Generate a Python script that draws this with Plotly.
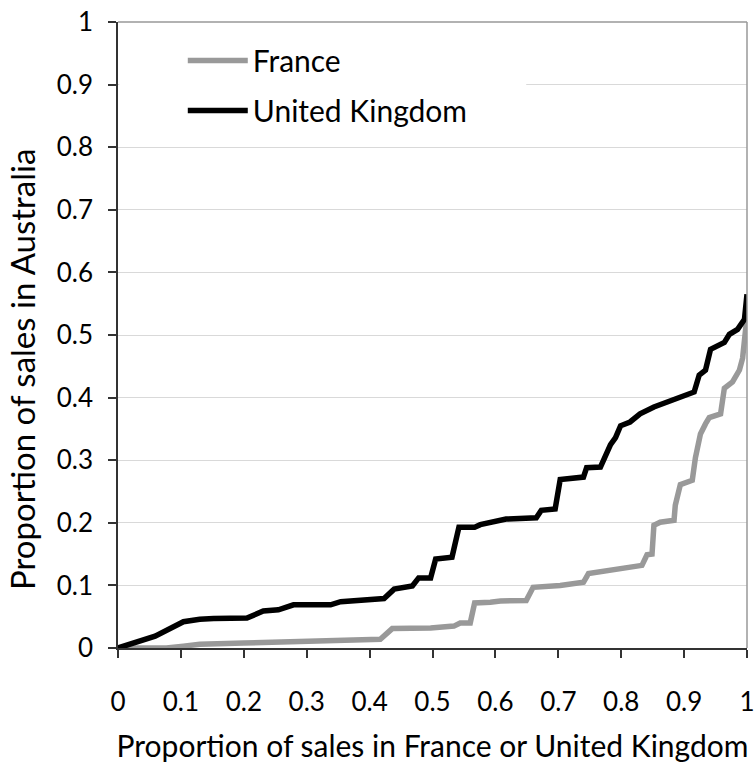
import plotly.graph_objects as go

uk_x = [0, 0.059, 0.104, 0.130, 0.152, 0.205, 0.231, 0.255, 0.279, 0.338, 0.354, 0.396,
        0.423, 0.439, 0.468, 0.478, 0.497, 0.505, 0.531, 0.542, 0.567, 0.576, 0.617,
        0.665, 0.673, 0.695, 0.703, 0.740, 0.745, 0.767, 0.783, 0.791, 0.799, 0.814,
        0.830, 0.852, 0.884, 0.916, 0.924, 0.934, 0.942, 0.964, 0.972, 0.985, 0.996, 1.0]
uk_y = [0, 0.019, 0.042, 0.046, 0.047, 0.048, 0.059, 0.061, 0.069, 0.069, 0.074, 0.078,
        0.079, 0.094, 0.099, 0.112, 0.112, 0.142, 0.145, 0.193, 0.193, 0.197, 0.206,
        0.208, 0.220, 0.222, 0.269, 0.273, 0.288, 0.289, 0.325, 0.336, 0.355, 0.361,
        0.374, 0.385, 0.398, 0.409, 0.436, 0.444, 0.477, 0.488, 0.501, 0.509, 0.525, 0.565]

fr_x = [0, 0.077, 0.104, 0.130, 0.200, 0.269, 0.306, 0.359, 0.417, 0.436, 0.497, 0.534,
        0.544, 0.560, 0.567, 0.592, 0.608, 0.649, 0.660, 0.703, 0.740, 0.748, 0.777,
        0.820, 0.833, 0.841, 0.849, 0.852, 0.862, 0.884, 0.886, 0.894, 0.913, 0.918,
        0.926, 0.934, 0.940, 0.958, 0.964, 0.977, 0.988, 0.993, 0.998, 1.0]
fr_y = [0, 0, 0.003, 0.006, 0.008, 0.010, 0.011, 0.013, 0.014, 0.031, 0.032, 0.035,
        0.040, 0.040, 0.072, 0.073, 0.075, 0.076, 0.097, 0.100, 0.105, 0.119, 0.124,
        0.130, 0.132, 0.149, 0.150, 0.196, 0.201, 0.204, 0.228, 0.261, 0.268, 0.304,
        0.342, 0.358, 0.368, 0.374, 0.415, 0.425, 0.444, 0.463, 0.504, 0.530]

tick_vals = [0, 0.1, 0.2, 0.3, 0.4, 0.5, 0.6, 0.7, 0.8, 0.9, 1]
tick_text = ["0", "0.1", "0.2", "0.3", "0.4", "0.5", "0.6", "0.7", "0.8", "0.9", "1"]

x_title = "Proportion of sales in France or United Kingdom"
y_title = "Proportion of sales in Australia"

FONT = "Lato"

fig = go.Figure()
fig.add_trace(go.Scatter(x=fr_x, y=fr_y, mode="lines", name="France", legendgroup="fr",
                         line=dict(color="#999999", width=5.5)))
fig.add_trace(go.Scatter(x=uk_x, y=uk_y, mode="lines", name="United Kingdom", legendgroup="uk",
                         line=dict(color="#000000", width=5.5)))

axis_common = dict(
    range=[0, 1], tickvals=tick_vals, ticktext=tick_text,
    showline=True, linecolor="#333333", linewidth=1.5,
    ticks="outside", ticklen=8, tickcolor="#333333", tickwidth=1.5,
    tickfont=dict(family=FONT, size=26, color="#000000"),
    zeroline=False, automargin=False, ticklabeloverflow="allow",
)

fig.update_layout(
    width=754, height=766,
    margin=dict(l=118, r=7, t=22, b=118),
    paper_bgcolor="white", plot_bgcolor="white",
    font=dict(family=FONT, size=27, color="#000000"),
    xaxis=dict(**axis_common, showgrid=False, ticklabelstandoff=22,
               title=dict(text=x_title, font=dict(family=FONT, size=30), standoff=20)),
    yaxis=dict(**axis_common, showgrid=True, gridcolor="#d9d9d9", gridwidth=1,
               ticklabelstandoff=10),
    legend=dict(x=0.103, y=0.98, xanchor="left", yanchor="top",
                bgcolor="rgba(0,0,0,0)", font=dict(family=FONT, size=30),
                itemwidth=60, tracegroupgap=8),
    showlegend=True,
    annotations=[
        dict(text=y_title, xref="paper", yref="paper", x=-0.1526, y=0.444,
             xanchor="center", yanchor="middle", textangle=-90, showarrow=False,
             font=dict(family=FONT, size=33, color="#000000")),
    ],
    shapes=[
        dict(type="rect", xref="x", yref="y", x0=0.002, x1=0.649,
             y0=0.853, y1=0.985, fillcolor="white", line=dict(width=0), layer="between"),
        dict(type="line", xref="paper", yref="paper", x0=0, x1=1, y0=1, y1=1,
             line=dict(color="#999999", width=1.5)),
        dict(type="line", xref="paper", yref="paper", x0=1, x1=1, y0=0, y1=1,
             line=dict(color="#999999", width=1.5)),
    ],
)

fig.write_html("out.html", config={"displayModeBar": False},
               post_script="document.body.style.margin='0';")
